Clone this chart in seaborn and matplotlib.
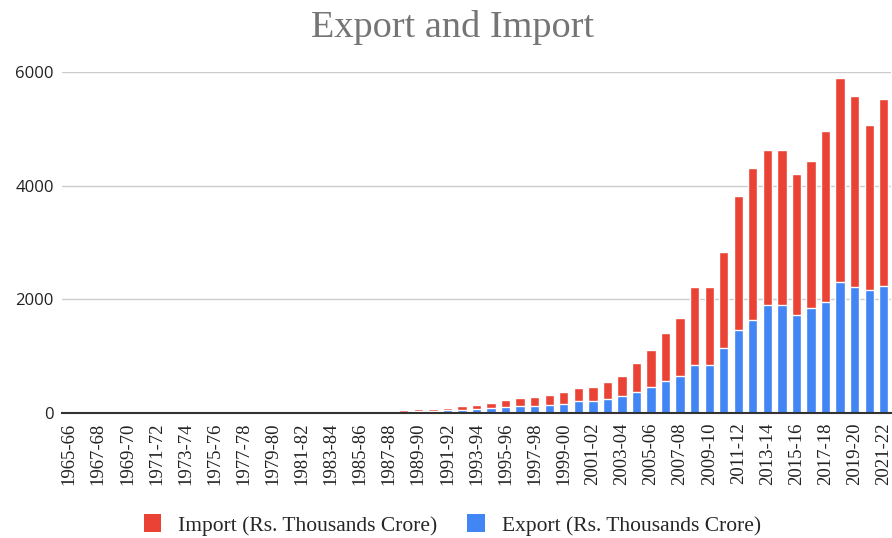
import matplotlib
matplotlib.use("Agg")
import matplotlib.pyplot as plt
import seaborn as sns
import pandas as pd
from matplotlib.patches import Patch

years = [f"{y}-{str(y + 1)[-2:]}" for y in range(1965, 2022)]

export = [0.8, 1.2, 1.2, 1.4, 1.4, 1.5, 1.6, 2.0, 2.5, 3.3, 4.0, 5.1, 5.4, 5.7,
          6.4, 6.7, 7.8, 8.8, 9.8, 11.7, 10.9, 12.5, 15.7, 20.2, 27.7, 32.6,
          44.0, 53.7, 69.8, 82.7, 106.4, 118.8, 130.1, 139.8, 159.6, 203.6,
          209.0, 255.1, 293.4, 375.3, 456.4, 571.8, 655.9, 840.8, 845.5,
          1142.9, 1466.0, 1634.3, 1905.0, 1896.4, 1716.4, 1849.4, 1956.5,
          2307.7, 2219.9, 2159.0, 2230.0]

imports = [1.4, 2.1, 2.0, 1.9, 1.6, 1.6, 1.8, 1.9, 3.0, 4.5, 5.3, 5.1, 6.0, 6.8,
           9.1, 12.5, 13.6, 14.3, 15.8, 17.1, 19.7, 20.1, 22.2, 28.2, 35.3, 43.2,
           47.9, 63.4, 73.1, 90.0, 122.7, 138.9, 154.2, 178.3, 215.2, 228.3,
           245.2, 297.2, 359.1, 501.1, 660.4, 840.5, 1012.3, 1374.4, 1363.7,
           1683.5, 2345.5, 2669.2, 2715.4, 2737.1, 2490.3, 2577.7, 3001.0,
           3594.7, 3361.0, 2916.0, 3290.0]

import_label = "Import (Rs. Thousands Crore)"
export_label = "Export (Rs. Thousands Crore)"

df = pd.DataFrame({"year": years, "export": export, "import": imports})
df["total"] = df["export"] + df["import"]

RED = "#EA4335"
BLUE = "#4285F4"

sns.set_theme(style="white")
plt.rcParams["font.family"] = ["Liberation Serif", "DejaVu Serif"]

fig = plt.figure(figsize=(8.92, 5.38), dpi=100)
ax = fig.add_axes([62 / 892, 1 - 413 / 538, 829 / 892, (413 - 72) / 538])

sns.barplot(data=df, x="year", y="total", color=RED, width=0.64,
            saturation=1, ax=ax, zorder=2)
sns.barplot(data=df, x="year", y="export", color=BLUE, width=0.64,
            saturation=1, ax=ax, zorder=3)

ax.set_ylim(0, 6000)
ax.set_xlim(-0.5, len(years) - 0.5)
ax.set_yticks([0, 2000, 4000, 6000])
ax.set_yticklabels(["0", "2000", "4000", "6000"], fontfamily="Open Sans",
                   fontsize=12, color="#222222")
ax.yaxis.grid(True, color="#cccccc", linewidth=1, zorder=0)
ax.set_axisbelow(True)
ax.set_xticks(range(0, len(years), 2))
ax.set_xticklabels(years[::2], rotation=90, fontsize=13.5, color="#222222")
ax.tick_params(axis="both", length=0)
ax.tick_params(axis="x", pad=7)
ax.tick_params(axis="y", pad=6)
ax.set_xlabel("")
ax.set_ylabel("")
for s in ["top", "right", "left"]:
    ax.spines[s].set_visible(False)
ax.spines["bottom"].set_color("#333333")
ax.spines["bottom"].set_linewidth(1.5)
ax.spines["bottom"].set_zorder(5)

fig.text(0.507, 1 - 28 / 538, "Export and Import", ha="center", va="center",
         fontsize=27.5, color="#757575")

handles = [Patch(facecolor=RED, edgecolor="none", label=import_label),
           Patch(facecolor=BLUE, edgecolor="none", label=export_label)]
fig.legend(handles=handles, loc="center", bbox_to_anchor=(0.507, 1 - 525 / 538),
           ncol=2, frameon=False, fontsize=15.5, handlelength=0.8,
           handleheight=0.9, handletextpad=0.8, columnspacing=1.4)

fig.savefig("out.png", dpi=100, facecolor="white")
